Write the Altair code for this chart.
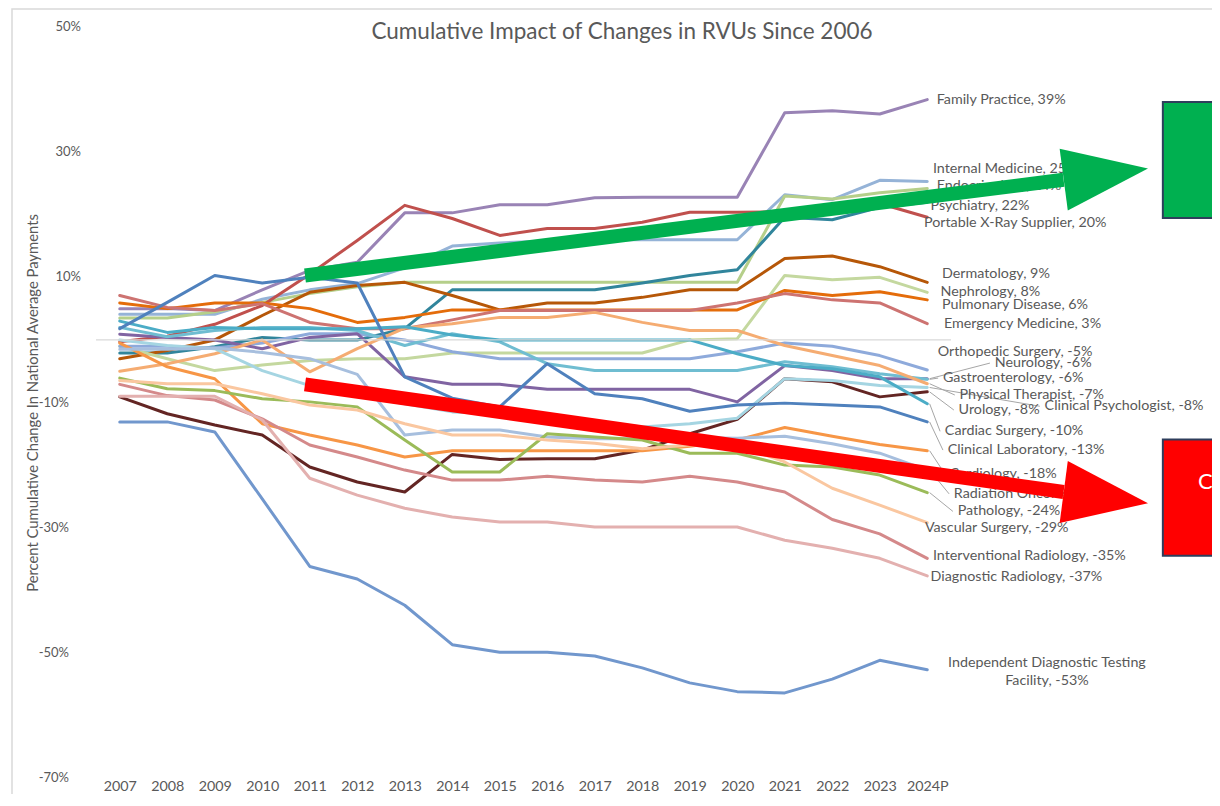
import altair as alt
import pandas as pd

# ---------------- data ----------------
years = list(range(2007, 2025))
year_tick_labels = [str(y) for y in range(2007, 2024)] + ["2024P"]
y_ticks = [-70, -50, -30, -10, 10, 30, 50]

family_practice = [5.0, 5.0, 4.7, 8.0, 11.1, 12.4, 20.3, 20.3, 21.6, 21.6, 22.7, 22.8, 22.8, 22.8, 36.3, 36.6, 36.1, 38.4]
internal_medicine = [4.1, 4.1, 4.1, 6.5, 8.0, 9.0, 11.5, 15.0, 15.5, 15.8, 16.0, 16.0, 16.0, 16.0, 23.2, 22.4, 25.5, 25.3]
endocrinology = [3.5, 3.5, 4.5, 6.0, 7.4, 8.5, 9.2, 9.2, 9.2, 9.2, 9.2, 9.2, 9.2, 9.2, 23.0, 22.5, 23.5, 24.2]
psychiatry = [-2.1, -2.1, -1.1, 0.4, 0.0, 0.0, 1.8, 8.0, 8.0, 8.0, 8.0, 9.1, 10.3, 11.2, 19.6, 19.2, 21.2, 22.0]
portable_xray = [-0.3, 0.6, 2.5, 5.5, 10.5, 15.9, 21.5, 19.4, 16.7, 17.8, 17.8, 18.8, 20.4, 20.4, 20.5, 21.0, 21.8, 19.6]
dermatology = [-3.0, -1.7, 0.0, 3.9, 7.6, 8.7, 9.2, 7.1, 4.8, 5.9, 5.9, 6.8, 8.0, 8.0, 13.0, 13.4, 11.7, 9.2]
nephrology = [-1.0, -3.0, -4.9, -4.0, -3.3, -3.0, -3.0, -2.1, -2.1, -2.1, -2.1, -2.1, 0.0, 0.2, 10.3, 9.6, 10.0, 7.6]
pulmonary = [5.9, 5.0, 5.9, 5.9, 5.0, 2.8, 3.6, 4.8, 4.8, 4.8, 4.8, 4.8, 4.8, 4.8, 7.9, 7.1, 7.7, 6.4]
emergency = [7.1, 5.2, 4.7, 5.8, 2.8, 1.8, 1.8, 3.2, 4.7, 4.7, 4.7, 4.7, 4.7, 5.9, 7.4, 6.4, 5.9, 2.6]
orthopedic = [-1.0, -1.0, -1.3, -0.5, 1.0, 1.0, 0.0, -1.9, -3.0, -3.0, -3.0, -3.0, -3.0, -1.9, -0.5, -1.0, -2.5, -4.8]
neurology = [0.9, 0.4, 0.0, -1.4, 0.4, 1.0, -5.9, -7.1, -7.1, -7.9, -7.9, -7.9, -7.9, -9.9, -4.1, -4.9, -6.2, -6.2]
gastroenterology = [2.0, 0.5, 1.5, 2.0, 2.0, 1.5, -0.9, 1.0, -0.3, -3.8, -4.9, -4.9, -4.9, -4.9, -3.5, -4.3, -5.4, -6.3]
physical_therapist = [-5.0, -3.8, -2.2, 0.0, -5.1, -1.4, 1.9, 2.6, 3.6, 3.6, 4.4, 2.8, 1.5, 1.5, -0.9, -2.5, -4.1, -7.0]
urology = [-9.1, -11.8, -13.6, -15.2, -20.3, -22.7, -24.3, -18.3, -19.1, -19.0, -19.0, -17.6, -15.0, -12.7, -6.2, -6.7, -9.1, -8.3]
clinical_psych = [0.0, -0.9, -1.4, -4.9, -7.3, -8.9, -10.2, -11.5, -11.8, -12.5, -13.0, -13.9, -13.4, -12.5, -6.2, -6.5, -7.3, -7.6]
cardiac_surgery = [3.0, 1.2, 2.0, 1.8, 1.8, 1.8, 2.1, 0.8, 0.0, 0.0, 0.0, 0.0, 0.0, -2.2, -4.1, -4.6, -5.9, -10.2]
clinical_lab = [1.8, 6.0, 10.3, 9.1, 10.0, 9.1, -5.9, -9.3, -10.7, -3.8, -8.6, -9.4, -11.4, -10.4, -10.1, -10.4, -10.7, -13.1]
cardiology = [-0.5, -4.3, -6.2, -13.4, -15.2, -16.8, -18.7, -17.7, -17.7, -17.7, -17.7, -17.7, -17.0, -16.0, -14.0, -15.4, -16.7, -17.7]
radiation_onc = [-1.5, -1.5, -1.3, -2.0, -3.0, -5.5, -15.2, -14.4, -14.4, -15.5, -15.8, -15.8, -15.6, -15.7, -15.4, -16.6, -18.1, -20.8]
pathology = [-6.1, -7.8, -8.1, -9.4, -9.9, -10.7, -16.0, -21.1, -21.1, -15.0, -15.5, -16.0, -18.1, -18.1, -20.0, -20.3, -21.6, -24.4]
vascular = [-6.5, -7.0, -7.0, -8.6, -10.4, -11.2, -13.4, -15.2, -15.2, -16.0, -16.5, -17.4, -16.8, -16.8, -19.5, -23.7, -26.4, -29.2]
interventional = [-7.1, -8.9, -9.6, -12.6, -16.8, -18.7, -20.8, -22.4, -22.4, -21.8, -22.4, -22.7, -21.8, -22.7, -24.3, -28.7, -31.0, -34.9]
diagnostic = [-9.0, -9.0, -9.0, -12.8, -22.1, -24.8, -26.9, -28.3, -29.1, -29.1, -29.9, -29.9, -29.9, -29.9, -32.0, -33.3, -34.9, -37.7]
idtf = [-13.1, -13.1, -14.7, -25.4, -36.2, -38.2, -42.4, -48.7, -49.9, -49.9, -50.5, -52.4, -54.8, -56.2, -56.4, -54.2, -51.2, -52.7]

series_names = [
    "Family Practice", "Internal Medicine", "Endocrinology", "Psychiatry",
    "Portable X-Ray Supplier", "Dermatology", "Nephrology", "Pulmonary Disease",
    "Emergency Medicine", "Orthopedic Surgery", "Neurology", "Gastroenterology",
    "Physical Therapist", "Urology", "Clinical Psychologist", "Cardiac Surgery",
    "Clinical Laboratory", "Cardiology", "Radiation Oncology", "Pathology",
    "Vascular Surgery", "Interventional Radiology", "Diagnostic Radiology",
    "Independent Diagnostic Testing Facility",
]
series_values = [
    family_practice, internal_medicine, endocrinology, psychiatry,
    portable_xray, dermatology, nephrology, pulmonary,
    emergency, orthopedic, neurology, gastroenterology,
    physical_therapist, urology, clinical_psych, cardiac_surgery,
    clinical_lab, cardiology, radiation_onc, pathology,
    vascular, interventional, diagnostic, idtf,
]
series_colors = [
    "#9983b5", "#95b3d7", "#b5cf8a", "#31859c",
    "#c0504d", "#b65708", "#c4d89f", "#e46c0a",
    "#cd7371", "#8eaadb", "#8064a2", "#6fbdd1",
    "#f5ac72", "#632523", "#a5d5e2", "#4bacc6",
    "#4f81bd", "#f79646", "#a7bfde", "#9bbb59",
    "#fac7a0", "#d4898a", "#e3b0af", "#7197cd",
]

label_texts = [
    "Family Practice, 39%", "Internal Medicine, 25%", "Endocrinology, 24%", "Psychiatry, 22%",
    "Portable X-Ray Supplier, 20%", "Dermatology, 9%", "Nephrology, 8%", "Pulmonary Disease, 6%",
    "Emergency Medicine, 3%", "Orthopedic Surgery, -5%", "Neurology, -6%", "Gastroenterology, -6%",
    "Physical Therapist, -7%", "Urology, -8%", "Clinical Psychologist, -8%", "Cardiac Surgery, -10%",
    "Clinical Laboratory, -13%", "Cardiology, -18%", "Radiation Oncology, -21%", "Pathology, -24%",
    "Vascular Surgery, -29%", "Interventional Radiology, -35%", "Diagnostic Radiology, -37%",
]
label_x = [2024.2, 2024.12, 2024.2, 2024.07, 2023.93, 2024.31, 2024.28, 2024.31,
           2024.35, 2024.22, 2025.42, 2024.33, 2024.68, 2024.66, 2026.47, 2024.37,
           2024.43, 2024.47, 2024.56, 2024.64, 2023.95, 2024.12, 2024.07]
label_y = [38.4, 27.3, 24.6, 21.4, 18.7, 10.6, 7.7, 5.5,
           2.5, -2.0, -3.7, -6.1, -8.8, -11.2, -10.6, -14.6,
           -17.6, -21.4, -24.6, -27.4, -30.1, -34.5, -37.9]
label_leader = [0, 0, 0, 0, 0, 0, 0, 0, 0, 0, 1, 1, 1, 1, 1, 1, 1, 1, 1, 1, 0, 0, 0]

idtf_label = "Independent Diagnostic Testing\nFacility, -53%"
idtf_label_x = [2026.52]
idtf_label_y = [-51.7]

arrow_colors = ["#00b050", "#ff0000"]
arrow_x1 = [2010.9, 2010.9]
arrow_y1 = [10.3, -7.1]
arrow_x2 = [2026.87, 2026.87]
arrow_y2 = [25.6, -24.3]
head_x = [2027.76, 2027.76]
head_y = [26.5, -25.2]
head_angle = [352.5, 7.5]

box_x1 = [2028.96, 2028.96]
box_x2 = [2032.0, 2032.0]
box_y1 = [38.0, -15.9]
box_y2 = [19.5, -34.5]
box_text = ["C"]
box_text_x = [2029.7]
box_text_y = [-22.7]

title_text = "Cumulative Impact of Changes in RVUs Since 2006"
y_title = "Percent Cumulative Change In National Average Payments"

# ---------------- tables ----------------
rows = []
for name, vals in zip(series_names, series_values):
    for yr, v in zip(years, vals):
        rows.append({"series": name, "year": yr, "value": v})
df = pd.DataFrame(rows)

end_vals = [vals[-1] for vals in series_values]
lab_df = pd.DataFrame({"label": label_texts, "lx": label_x, "ly": label_y,
                       "end": end_vals[:len(label_texts)], "leader": label_leader})
lead_df = lab_df[lab_df["leader"] == 1].copy()
lead_df["x0"] = 2024.05
lead_df["x1"] = lead_df["lx"] - 0.1

idtf_df = pd.DataFrame({"label": [idtf_label], "lx": idtf_label_x, "ly": idtf_label_y})
arrow_df = pd.DataFrame({"c": arrow_colors, "x1": arrow_x1, "y1": arrow_y1,
                         "x2": arrow_x2, "y2": arrow_y2})
head_df = pd.DataFrame({"c": arrow_colors, "x": head_x, "y": head_y, "a": head_angle})
box_df = pd.DataFrame({"c": arrow_colors, "x1": box_x1, "x2": box_x2, "y1": box_y1, "y2": box_y2})
boxtxt_df = pd.DataFrame({"t": box_text, "x": box_text_x, "y": box_text_y})
ytick_df = pd.DataFrame({"v": y_ticks, "t": [f"{v}%" for v in y_ticks]})

# ---------------- scales / axes ----------------
xs = alt.Scale(domain=[2006.5, 2024.5])
ys = alt.Scale(domain=[-70, 50])
FONT = "Lato"
GREY = "#595959"

label_expr = "datum.value == 2024 ? '" + year_tick_labels[-1] + "' : format(datum.value, 'd')"

x_axis = alt.Axis(values=years, labelExpr=label_expr, title=None, grid=False, domain=False,
                  ticks=False, labelFont=FONT, labelFontSize=14.3, labelColor=GREY,
                  labelPadding=1, labelFlush=False, labelOverlap=False, labelBaseline="top")
y_axis = alt.Axis(labels=False, grid=False, domain=False, ticks=False,
                  title=y_title, titleFont=FONT, titleFontSize=14.8, titleColor=GREY,
                  titleFontWeight="normal", titleX=-63, titleY=375.5, titleAngle=270,
                  titleAlign="center", titleBaseline="middle")


def X(field):
    return alt.X(field, scale=xs)


def Y(field):
    return alt.Y(field, scale=ys)


# ---------------- layers ----------------
lines = alt.Chart(df).mark_line(strokeWidth=3, strokeJoin="round", strokeCap="round").encode(
    x=alt.X("year:Q", scale=xs, axis=x_axis),
    y=alt.Y("value:Q", scale=ys, axis=y_axis),
    color=alt.Color("series:N", scale=alt.Scale(domain=series_names, range=series_colors), legend=None),
)

frame = alt.Chart(pd.DataFrame({"f": [1]})).mark_rect(filled=False, stroke="#d9d9d9",
                                                      strokeWidth=1.5).encode(
    x=alt.value(-84), x2=alt.value(1300), y=alt.value(-18), y2=alt.value(900))

zero = alt.Chart(pd.DataFrame({"z": [0]})).mark_rule(color="#d9d9d9", strokeWidth=1.2).encode(
    y=Y("z:Q"))

ytick_pos = alt.Chart(ytick_df).transform_filter("datum.v > 0").mark_text(
    align="right", baseline="middle", font=FONT, fontSize=13, color=GREY).encode(
    y=Y("v:Q"), x=alt.value(-15), text="t:N")
ytick_neg = alt.Chart(ytick_df).transform_filter("datum.v < 0").mark_text(
    align="right", baseline="middle", font=FONT, fontSize=13, color=GREY).encode(
    y=Y("v:Q"), x=alt.value(-27), text="t:N")

leaders = alt.Chart(lead_df).mark_rule(color="#a6a6a6", strokeWidth=1).encode(
    x=X("x0:Q"), y=Y("end:Q"), x2="x1:Q", y2="ly:Q")

labels = alt.Chart(lab_df).mark_text(align="left", baseline="middle", font=FONT,
                                     fontSize=14.3, color=GREY).encode(
    x=X("lx:Q"), y=Y("ly:Q"), text="label:N")

idtf_text = alt.Chart(idtf_df).mark_text(align="center", baseline="middle", font=FONT,
                                         fontSize=14.3, color=GREY, lineBreak="\n",
                                         lineHeight=18).encode(
    x=X("lx:Q"), y=Y("ly:Q"), text="label:N")

shafts = alt.Chart(arrow_df).mark_rule(strokeWidth=14, strokeCap="butt").encode(
    x=X("x1:Q"), y=Y("y1:Q"), x2="x2:Q", y2="y2:Q", color=alt.Color("c:N", scale=None))

heads = alt.Chart(head_df).mark_point(shape="M -1 -0.735 L 1 0 L -1 0.735 Z", filled=True,
                                      opacity=1, size=7225, strokeWidth=0).encode(
    x=X("x:Q"), y=Y("y:Q"),
    fill=alt.Fill("c:N", scale=None), angle=alt.Angle("a:Q", scale=None))

boxes = alt.Chart(box_df).mark_rect(stroke="#2e3e5c", strokeWidth=2).encode(
    x=X("x1:Q"), x2="x2:Q", y=Y("y1:Q"), y2="y2:Q",
    fill=alt.Fill("c:N", scale=None))

box_label = alt.Chart(boxtxt_df).mark_text(align="left", baseline="middle", font=FONT,
                                           fontSize=22, color="white").encode(
    x=X("x:Q"), y=Y("y:Q"), text="t:N")

title = alt.Chart(pd.DataFrame({"t": [title_text]})).mark_text(
    align="center", baseline="middle", font=FONT, fontSize=22.5, color=GREY).encode(
    text="t:N", x=alt.value(526), y=alt.value(5))

chart = alt.layer(lines, frame, zero, ytick_pos, ytick_neg, leaders, labels, idtf_text,
                  shafts, heads, boxes, box_label, title).properties(
    width=855, height=751,
    autosize=alt.AutoSizeParams(type="none"),
    padding={"left": 88, "top": 19, "right": 261, "bottom": 16},
    background="white",
).configure_view(stroke=None)

chart.save("out.html", embed_options={"renderer": "svg", "actions": False})
